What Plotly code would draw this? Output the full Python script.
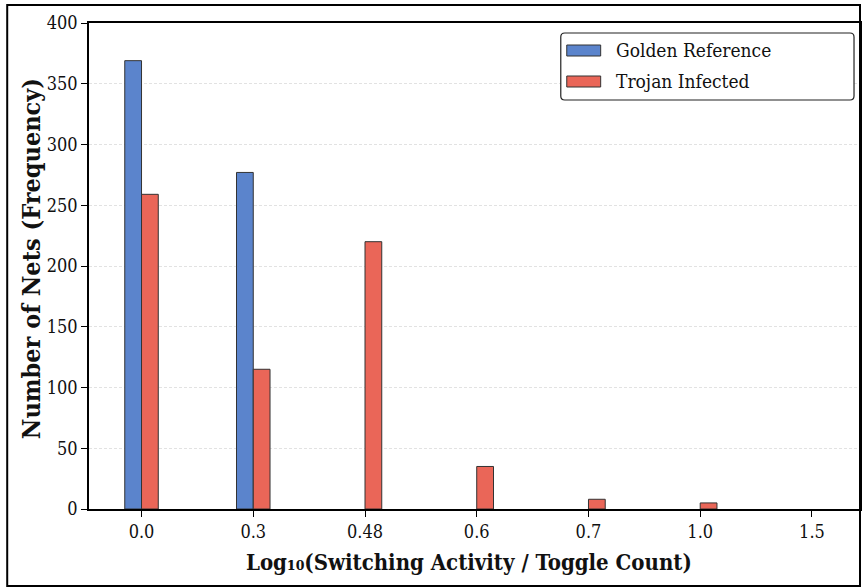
import plotly.graph_objects as go

# Histogram bins (log10 of toggle count) and net counts per design
bins = ["0.0", "0.3", "0.48", "0.6", "0.7", "1.0", "1.5"]
golden_counts = [369, 277, 0, 0, 0, 0, 0]
trojan_counts = [259, 115, 220, 35, 8, 5, 0]
series_names = ["Golden Reference", "Trojan Infected"]
y_ticks = [0, 50, 100, 150, 200, 250, 300, 350, 400]

BLUE = "#5B84CC"
RED = "#EA6658"
FONT = "DejaVu Serif Condensed, DejaVu Serif, serif"

fig = go.Figure()
for name, counts, color in zip(series_names, [golden_counts, trojan_counts], [BLUE, RED]):
    # empty bins get no outline so nothing is drawn on the baseline
    edge_w = [1 if v > 0 else 0 for v in counts]
    fig.add_trace(go.Bar(x=bins, y=counts, name=name,
                         marker=dict(color=color,
                                     line=dict(color="#333333", width=edge_w))))

L, T, B, R = 89, 23, 79, 1
W, H = 863, 588
pw, ph = W - L - R, H - T - B


def px(x):
    return (x - L) / pw


def py(y):
    return (H - B - y) / ph


fig.update_layout(
    width=W, height=H,
    margin=dict(l=L, r=R, t=T, b=B, pad=0),
    barmode="group", bargap=0.7, bargroupgap=0,
    paper_bgcolor="white", plot_bgcolor="white",
    font=dict(family=FONT, size=18, color="#111111"),
    showlegend=False,
    xaxis=dict(
        type="category", range=[-0.47, 6.43],
        showline=True, linecolor="black", linewidth=1.5, mirror=True,
        ticks="outside", ticklen=6, tickcolor="black", tickwidth=1,
        showgrid=False, tickfont=dict(family=FONT, size=18),
    ),
    yaxis=dict(
        range=[0, 400], tickvals=y_ticks,
        showline=True, linecolor="black", linewidth=1.5, mirror=True,
        ticks="outside", ticklen=6, tickcolor="black", tickwidth=1,
        showgrid=True, gridcolor="#e2e2e2", gridwidth=0.8, griddash="3px,2px",
        zeroline=False, tickfont=dict(family=FONT, size=18),
    ),
)

# Axis titles
fig.add_annotation(
    text="<b>Log₁₀(Switching Activity / Toggle Count)</b>",
    xref="paper", yref="paper", x=px(470), y=py(562),
    xanchor="center", yanchor="middle", showarrow=False,
    font=dict(family=FONT, size=22, color="#111111"),
)
fig.add_annotation(
    text="<b>Number of Nets (Frequency)</b>",
    xref="paper", yref="paper", x=px(31), y=py(259),
    xanchor="center", yanchor="middle", showarrow=False, textangle=-90,
    font=dict(family=FONT, size=25, color="#111111"),
)

# Outer frame around the figure
fig.add_shape(type="rect", xref="paper", yref="paper",
              x0=px(7), x1=px(862), y0=py(586), y1=py(5),
              line=dict(color="black", width=2), layer="above")

# Legend box with rounded corners
lx0, lx1, ly0, ly1, rr = 562, 856, 33, 100, 4
path = (f"M {px(lx0 + rr)},{py(ly0)} L {px(lx1 - rr)},{py(ly0)} "
        f"Q {px(lx1)},{py(ly0)} {px(lx1)},{py(ly0 + rr)} "
        f"L {px(lx1)},{py(ly1 - rr)} Q {px(lx1)},{py(ly1)} {px(lx1 - rr)},{py(ly1)} "
        f"L {px(lx0 + rr)},{py(ly1)} Q {px(lx0)},{py(ly1)} {px(lx0)},{py(ly1 - rr)} "
        f"L {px(lx0)},{py(ly0 + rr)} Q {px(lx0)},{py(ly0)} {px(lx0 + rr)},{py(ly0)} Z")
fig.add_shape(type="path", xref="paper", yref="paper", path=path,
              fillcolor="white", line=dict(color="#222222", width=1.2), layer="above")

for i, (name, color) in enumerate(zip(series_names, [BLUE, RED])):
    cy = 50 + i * 31
    fig.add_shape(type="rect", xref="paper", yref="paper",
                  x0=px(568), x1=px(602), y0=py(cy + 6), y1=py(cy - 5),
                  fillcolor=color, line=dict(color="#333333", width=1), layer="above")
    fig.add_annotation(text=name, xref="paper", yref="paper",
                       x=px(615), y=py(cy), xanchor="left", yanchor="middle",
                       showarrow=False, font=dict(family=FONT, size=19, color="#111111"))

fig.write_html("out.html")
